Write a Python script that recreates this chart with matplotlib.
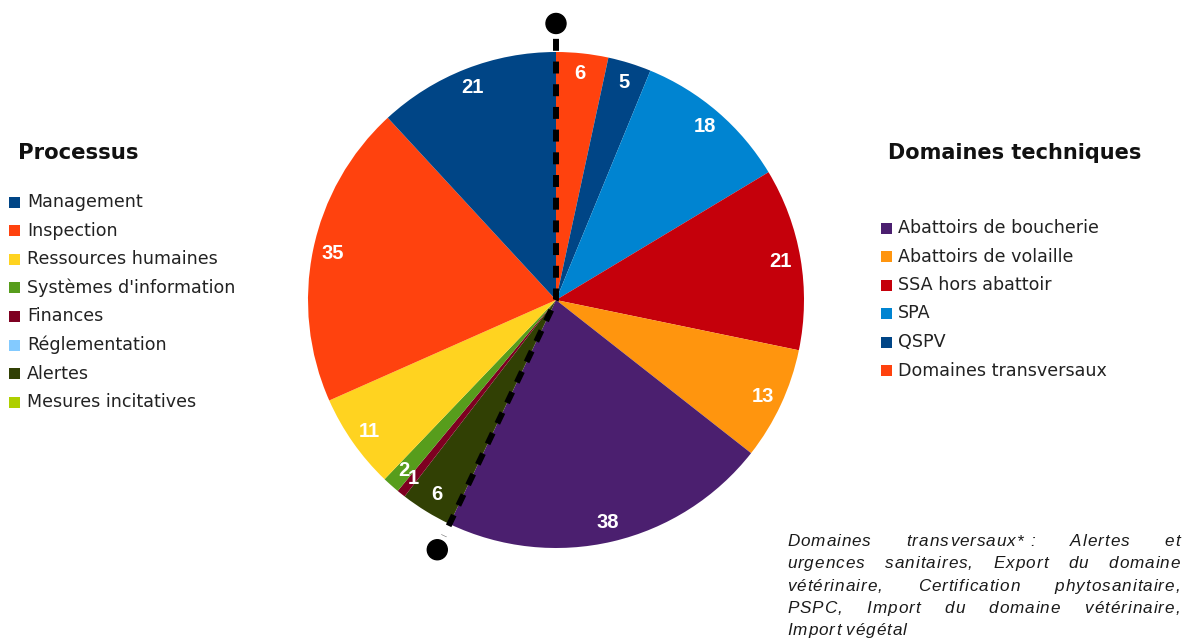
import matplotlib
matplotlib.use("Agg")
import numpy as np
import matplotlib.pyplot as plt
from matplotlib.patches import Circle, Rectangle

plt.rcParams['font.family'] = ['Liberation Sans', 'DejaVu Sans']

# slices, clockwise from the top
values = [6, 5, 18, 21, 13, 38, 6, 1, 2, 11, 35, 21]
slice_colors = ['#ff420e', '#004586', '#0084d1', '#c5000b', '#ff950e', '#4b1f6f',
                '#314004', '#7e0021', '#579d1c', '#ffd320', '#ff420e', '#004586']
n_domaines = 6  # the first six slices are the technical domains

processus = ['Management', 'Inspection', 'Ressources humaines', "Systèmes d'information",
             'Finances', 'Réglementation', 'Alertes', 'Mesures incitatives']
processus_colors = ['#004586', '#ff420e', '#ffd320', '#579d1c',
                    '#7e0021', '#83caff', '#314004', '#aecf00']

domaines = ['Abattoirs de boucherie', 'Abattoirs de volaille', 'SSA hors abattoir',
            'SPA', 'QSPV', 'Domaines transversaux']
domaines_colors = ['#4b1f6f', '#ff950e', '#c5000b', '#0084d1', '#004586', '#ff420e']

note_lines = [
    ['Domaines', 'transversaux*\u00a0:', 'Alertes', 'et'],
    ['urgences', 'sanitaires,', 'Export', 'du', 'domaine'],
    ['vétérinaire,', 'Certification', 'phytosanitaire,'],
    ['PSPC,', 'Import', 'du', 'domaine', 'vétérinaire,'],
    ['Import', 'végétal'],
]

W, H = 1187, 641
fig = plt.figure(figsize=(W / 100, H / 100), dpi=100)
ax = fig.add_axes([0, 0, 1, 1])


def Y(y):
    # layout is measured from the top of the picture
    return H - y


cx, cy, r = 556, Y(300), 248
total = sum(values)

patches, texts, autotexts = ax.pie(
    values, colors=slice_colors, startangle=90, counterclock=False,
    center=(cx, cy), radius=r,
    autopct=lambda p: '{:.0f}'.format(p * total / 100), pctdistance=0.92,
    textprops=dict(color='white', fontsize=14.5, fontweight='bold',
                   family=['Liberation Sans', 'DejaVu Sans']),
    wedgeprops=dict(linewidth=0))

ax.set_xlim(0, W)
ax.set_ylim(0, H)
ax.set_aspect('auto')
ax.axis('off')

# dashed split between technical domains and processes
split = np.deg2rad(90 - 360 * sum(values[:n_domaines]) / total)
d_line, d_dot = 1.053 * r, 1.115 * r
ax.plot([cx, cx, cx + d_line * np.cos(split)],
        [cy + d_line, cy, cy + d_line * np.sin(split)],
        color='black', lw=4.3, linestyle=(0, (2.0, 1.8)),
        dash_capstyle='butt', solid_joinstyle='miter', zorder=5)
for ang in (np.pi / 2, split):
    ax.add_patch(Circle((cx + d_dot * np.cos(ang), cy + d_dot * np.sin(ang)), 10,
                        color='black', zorder=6))

# legends
leg_font = ['DejaVu Sans']
ax.text(18, Y(153), 'Processus', fontsize=15.3, fontweight='bold', family=leg_font,
        va='center', ha='left', color='#111111')
for i, (name, col) in enumerate(zip(processus, processus_colors)):
    yy = Y(202 + i * 28.6)
    ax.add_patch(Rectangle((9, yy - 5.5), 11, 11, color=col, lw=0))
    ax.text(27, yy, name, fontsize=12.6, family=leg_font, va='center', ha='left',
            color='#222222')

ax.text(1015, Y(153), 'Domaines techniques', fontsize=15, fontweight='bold',
        family=leg_font, va='center', ha='center', color='#111111')
for i, (name, col) in enumerate(zip(domaines, domaines_colors)):
    yy = Y(228 + i * 28.5)
    ax.add_patch(Rectangle((881, yy - 5.5), 11, 11, color=col, lw=0))
    ax.text(898, yy, name, fontsize=12.6, family=leg_font, va='center', ha='left',
            color='#222222')

# justified footnote, slightly letter-spaced like the original
note_font = ['Liberation Sans', 'DejaVu Sans']
x0, x1 = 787, 1180
track = 1.0
renderer = fig.canvas.get_renderer()
for i, words in enumerate(note_lines):
    yy = Y(541 + i * 22.3)
    word_chars = []
    word_widths = []
    for w in words:
        chars = [ax.text(0, yy, c, fontsize=12.3, style='italic', family=note_font,
                         va='baseline', ha='left', color='#1a1a1a') for c in w]
        cw = [t.get_window_extent(renderer).width if c.strip() else 4.5
              for t, c in zip(chars, w)]
        word_chars.append((chars, cw))
        word_widths.append(sum(cw) + track * (len(w) - 1))
    if i == len(note_lines) - 1:
        gap = 5
    else:
        gap = (x1 - x0 - sum(word_widths)) / (len(words) - 1)
    x = x0
    for (chars, cw), ww in zip(word_chars, word_widths):
        cxx = x
        for t, w_ in zip(chars, cw):
            t.set_position((cxx, yy - 5))
            cxx += w_ + track
        x += ww + gap

fig.savefig('out.png', dpi=100)
